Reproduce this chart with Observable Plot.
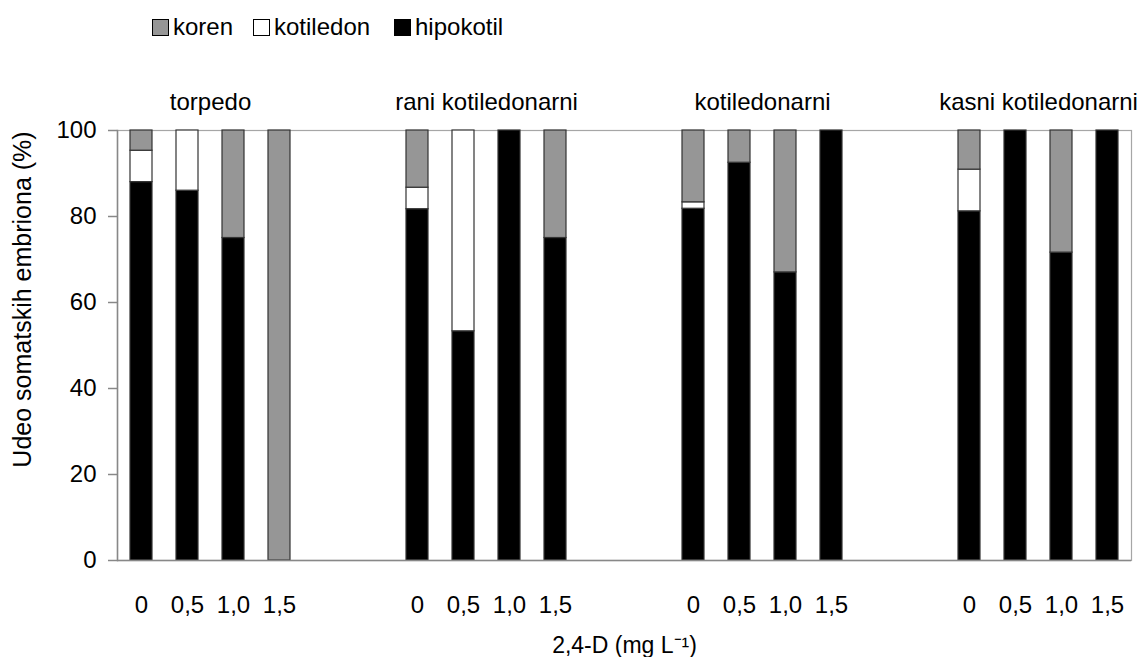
<!DOCTYPE html>
<html>
<head>
<meta charset="utf-8">
<script src="https://cdn.jsdelivr.net/npm/d3@7"></script>
<script src="https://cdn.jsdelivr.net/npm/@observablehq/plot@0.6"></script>
<style>
  html, body { margin: 0; padding: 0; background: #fff; }
  body { width: 1148px; height: 657px; overflow: hidden; font-family: "Liberation Sans", Arial, sans-serif; }
  #legend { height: 50px; position: relative; font-size: 24px; color: #000; }
  .item { position: absolute; top: 14px; display: flex; align-items: center; height: 26px; }
  .sw { display: block; width: 17px; height: 17px; box-sizing: border-box; border: 1.5px solid #000; margin-right: 4px; }
  svg { display: block; }
</style>
</head>
<body>
<div id="legend"></div>
<div id="chart"></div>
<script>
const groups = ["torpedo", "rani kotiledonarni", "kotiledonarni", "kasni kotiledonarni"];
const doses = ["0", "0,5", "1,0", "1,5"];
const parts = ["koren", "kotiledon", "hipokotil"];
const partColors = ["#969696", "#ffffff", "#000000"];
// values per bar, in order group × dose
const hipokotil = [88, 86, 75, 0, 81.7, 53.3, 100, 75, 81.8, 92.5, 67, 100, 81.2, 100, 71.6, 100];
const kotiledon = [7.3, 14, 0, 0, 5, 46.7, 0, 0, 1.5, 0, 0, 0, 9.7, 0, 0, 0];
const koren = [4.7, 0, 25, 100, 13.3, 0, 0, 25, 16.7, 7.5, 33, 0, 9.1, 0, 28.4, 0];
const yTicks = [0, 20, 40, 60, 80, 100];
const yLabel = "Udeo somatskih embriona (%)";
const xLabel = "2,4-D (mg L\u207B\u00B9)";

// legend
const legend = document.getElementById("legend");
const legendX = [152, 253, 394];
parts.forEach((p, i) => {
  const it = document.createElement("div");
  it.className = "item";
  it.style.left = legendX[i] + "px";
  const sw = document.createElement("span");
  sw.className = "sw";
  sw.style.background = partColors[i];
  const t = document.createElement("span");
  t.textContent = p;
  it.appendChild(sw); it.appendChild(t);
  legend.appendChild(it);
});

// band keys with two empty slots between groups
const keys = [];
groups.forEach((g, gi) => {
  if (gi > 0) keys.push("gap" + gi + "a", "gap" + gi + "b");
  doses.forEach(d => keys.push(g + "|" + d));
});

const rows = [];
groups.forEach((g, gi) => {
  doses.forEach((d, di) => {
    const i = gi * doses.length + di;
    const key = g + "|" + d;
    rows.push({key, part: "hipokotil", value: hipokotil[i]});
    rows.push({key, part: "kotiledon", value: kotiledon[i]});
    rows.push({key, part: "koren", value: koren[i]});
  });
});

const W = 1148, H = 607, mL = 117, mR = 17, mT = 80, mB = 97;
const step = (W - mL - mR) / keys.length;

const chart = Plot.plot({
  width: W, height: H,
  marginLeft: mL, marginRight: mR, marginTop: mT, marginBottom: mB,
  style: {fontFamily: "'Liberation Sans', Arial, sans-serif", fontSize: "24px", color: "#000", background: "#fff"},
  x: {type: "band", domain: keys, paddingInner: 0.52, paddingOuter: 0.26, axis: null},
  y: {domain: [0, 100], axis: null},
  color: {type: "ordinal", domain: parts, range: partColors},
  marks: [
    Plot.frame({stroke: "#a6a6a6", strokeWidth: 1.2}),
    Plot.barY(rows.filter(d => d.value > 0), {
      x: "key", y: "value", fill: "part", stroke: "#333", strokeWidth: 1.2,
      order: ["hipokotil", "kotiledon", "koren"]
    }),
    Plot.ruleY([0], {stroke: "#888", strokeWidth: 1.5}),
    Plot.frame({anchor: "left", stroke: "#888", strokeWidth: 1.5}),
    Plot.axisY({ticks: yTicks, tickSize: 9, tickPadding: 12, stroke: "#888", strokeWidth: 1.5, fontSize: 24, label: null}),
    Plot.axisX({tickSize: 0, tickPadding: 35, fontSize: 24, label: null,
      tickFormat: k => k.startsWith("gap") ? "" : k.split("|")[1]}),
    Plot.text(groups, {x: g => g + "|0,5", y: () => 100, dx: step / 2, dy: -28,
      text: d => d, fontSize: 24, lineAnchor: "middle", textAnchor: "middle"}),
    Plot.text([xLabel], {frameAnchor: "bottom", dy: 85, text: d => d, fontSize: 23, lineAnchor: "middle"}),
    Plot.text([yLabel], {frameAnchor: "left", rotate: -90, dx: -95, dy: -46, text: d => d, fontSize: 25, lineAnchor: "middle", textAnchor: "middle"})
  ]
});
document.getElementById("chart").appendChild(chart);
</script>
</body>
</html>
